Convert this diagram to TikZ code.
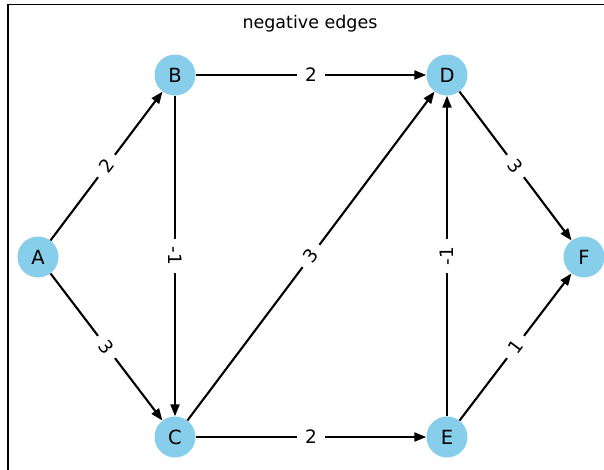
\documentclass[tikz,border=0pt]{standalone}
\usepackage{fontspec}
\setmainfont{DejaVu Sans}
\usetikzlibrary{arrows.meta}
\definecolor{skyblue}{RGB}{135,206,235}
\begin{document}
\begin{tikzpicture}[x=1pt,y=-1pt,
  vertex/.style={circle,fill=skyblue,minimum size=41pt,inner sep=0pt,font=\fontsize{19.5}{19.5}\selectfont},
  edge/.style={line width=2.1pt,-{Triangle[length=12pt,width=9pt]}},
  wlabel/.style={fill=white,inner xsep=8pt,inner ysep=3pt,font=\fontsize{18.5}{18.5}\selectfont}]
\useasboundingbox (0,0) rectangle (604,469);
\fill[white] (0,0) rectangle (604,469);
\draw[line width=1.5pt] (8,475) -- (8,4.5) -- (606,4.5);
\node[anchor=base,font=\fontsize{17.5}{17.5}\selectfont] (title) at (310,28) {negative edges};
\node[vertex] (A) at (38,257) {A};
\node[vertex] (B) at (175,75) {B};
\node[vertex] (C) at (175,437) {C};
\node[vertex] (D) at (447,75) {D};
\node[vertex] (E) at (447,437) {E};
\node[vertex] (F) at (584,257) {F};
\draw[edge] (A) -- (B) node[midway,wlabel,rotate=53] {2};
\draw[edge] (A) -- (C) node[midway,wlabel,rotate=-53] {3};
\draw[edge] (B) -- (D) node[midway,wlabel] {2};
\draw[edge] (B) -- (C) node[midway,wlabel,rotate=-90] {-1};
\draw[edge] (C) -- (D) node[midway,wlabel,rotate=53] {3};
\draw[edge] (C) -- (E) node[midway,wlabel] {2};
\draw[edge] (E) -- (D) node[midway,wlabel,rotate=90] {-1};
\draw[edge] (D) -- (F) node[midway,wlabel,rotate=-53] {3};
\draw[edge] (E) -- (F) node[midway,wlabel,rotate=53] {1};
\end{tikzpicture}
\end{document}
